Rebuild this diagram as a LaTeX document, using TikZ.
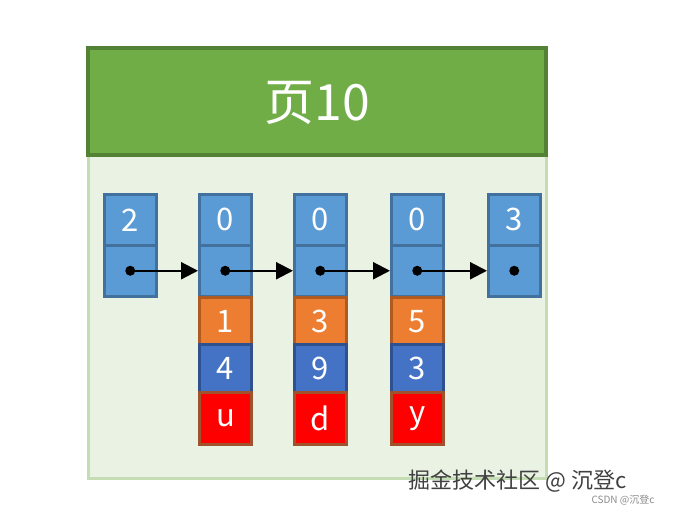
\documentclass[tikz,border=0pt]{standalone}
\usepackage{fontspec}
\setmainfont{Noto Sans CJK SC}
\usetikzlibrary{arrows.meta}
\definecolor{hdr}{HTML}{70AD47}
\definecolor{hdrb}{HTML}{548235}
\definecolor{bodyc}{HTML}{E9F2E3}
\definecolor{bodyb}{HTML}{C5DDB5}
\definecolor{lb}{HTML}{5B9BD5}
\definecolor{lbb}{HTML}{41719C}
\definecolor{orc}{HTML}{ED7D31}
\definecolor{orb}{HTML}{AE5A21}
\definecolor{db}{HTML}{4472C4}
\definecolor{dbb}{HTML}{2F528F}
\definecolor{rd}{HTML}{FF0000}
\definecolor{rdb}{HTML}{A0522D}
\tikzset{
 cell/.style={minimum width=52pt,minimum height=#1,inner sep=0pt,line width=2.5pt,text=white,font=\fontsize{31}{31}\selectfont,anchor=north west},
 cell/.default=51pt,
 lbc/.style={cell,fill=lb,draw=lbb},
 orn/.style={cell=48pt,fill=orc,draw=orb},
 dbn/.style={cell=48pt,fill=db,draw=dbb},
 rdn/.style={cell=52pt,fill=rd,draw=rdb,line width=3pt},
 dot/.style={circle,fill=black,inner sep=0pt,minimum size=10pt},
 arr/.style={-{Triangle[length=17pt,width=17pt]},line width=2.2pt}
}
\begin{document}
\begin{tikzpicture}[x=1pt,y=-1pt]
\useasboundingbox (0,0) rectangle (673,512);
\fill[white] (0,0) rectangle (673,512);
\draw[fill=bodyc,draw=bodyb,line width=3pt] (88,155) rectangle (546,478);
\draw[fill=hdr,draw=hdrb,line width=4pt] (88,48) rectangle (546,155);
\node (title) at (317,103) {\fontsize{50}{50}\selectfont\color{white}页10};
\node[lbc] (a1) at (103,193) {2};
\node[lbc] (a2) at (103,244) {};
\node[lbc] (b1) at (198,193) {0};
\node[lbc] (b2) at (198,244) {};
\node[orn] (b3) at (198,296) {1};
\node[dbn] (b4) at (198,343) {4};
\node[rdn] (b5) at (198,391) {u};
\node[lbc] (c1) at (293,193) {0};
\node[lbc] (c2) at (293,244) {};
\node[orn] (c3) at (293,296) {3};
\node[dbn] (c4) at (293,343) {9};
\node[rdn] (c5) at (293,391) {d};
\node[lbc] (d1) at (390,193) {0};
\node[lbc] (d2) at (390,244) {};
\node[orn] (d3) at (390,296) {5};
\node[dbn] (d4) at (390,343) {3};
\node[rdn] (d5) at (390,391) {y};
\node[lbc] (e1) at (487,193) {3};
\node[lbc] (e2) at (487,244) {};
\foreach \n in {a,b,c,d,e} {\node[dot] (\n d) at (\n2.center) {};}
\draw[arr] (ad) -- (b2.west);
\draw[arr] (bd) -- (c2.west);
\draw[arr] (cd) -- (d2.west);
\draw[arr] (dd) -- (e2.west);
\node[anchor=west,text=black!75,font=\fontsize{22}{22}\selectfont] (wm) at (405,481) {掘金技术社区 @ 沉登c};
\node[anchor=west,text=black!45,font=\fontsize{10}{10}\selectfont] (wm2) at (588,500) {CSDN @沉登c};
\end{tikzpicture}
\end{document}
